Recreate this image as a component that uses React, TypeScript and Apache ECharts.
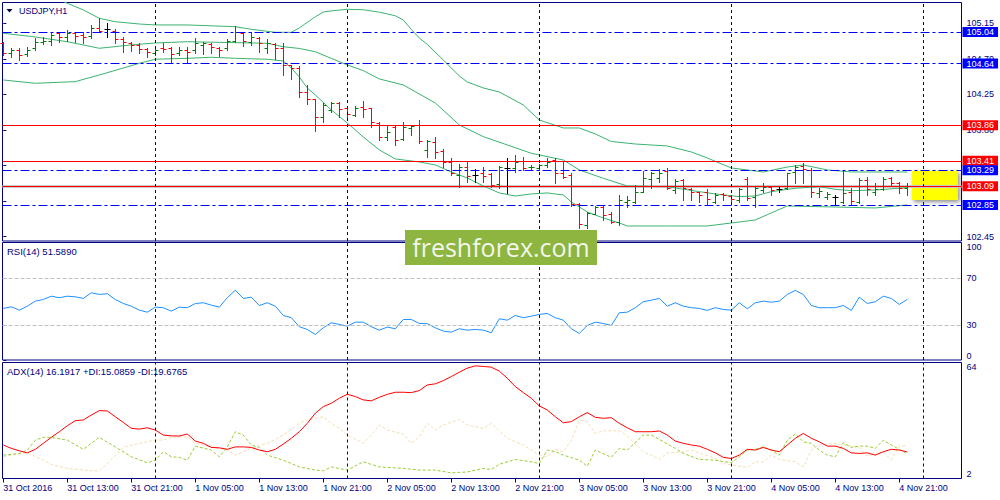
import * as echarts from 'echarts';
import { useEffect, useRef } from 'react';

const FONT = '"Liberation Sans", Arial, sans-serif';
const NAVY = '#000080';
const UP = '#008000';
const DOWN = '#ff0000';
const FLAT = '#000000';
const BAND = '#3cb371';
const BLUE = '#0000ff';
const RED = '#ff0000';

// hourly bars, 31 Oct 05:00 .. 4 Nov 22:00 (index = bar number)
const opens = [
  104.905, 104.770, 104.813, 104.758, 104.834, 104.918, 104.931, 105.023, 104.973, 105.023,
  105.002, 104.990, 105.087, 105.074, 105.057, 104.947, 104.897, 104.876, 104.821, 104.770,
  104.842, 104.834, 104.770, 104.813, 104.813, 104.876, 104.888, 104.834, 104.834, 104.931,
  105.032, 104.918, 104.960, 104.834, 104.888, 104.834, 104.623, 104.581, 104.285, 104.189,
  103.969, 104.054, 104.138, 104.075, 103.990, 104.096, 104.075, 103.893, 103.716, 103.843,
  103.682, 103.822, 103.864, 103.547, 103.653, 103.539, 103.400, 103.231, 103.337, 103.231,
  103.252, 103.244, 103.117, 103.316, 103.316, 103.413, 103.328, 103.316, 103.358, 103.421,
  103.252, 103.231, 102.864, 102.599, 102.738, 102.831, 102.738, 102.641, 102.894, 102.894,
  103.012, 103.176, 103.189, 103.286, 103.041, 103.168, 103.054, 103.012, 103.020, 102.894,
  102.991, 102.966, 102.915, 103.176, 102.949, 103.041, 103.075, 103.054, 103.063, 103.273,
  103.345, 103.295, 102.999, 102.949, 102.949, 102.894, 103.020, 102.894, 103.168, 103.020,
  103.050, 103.189, 103.134, 103.063,
];
const highs = [
  104.918, 104.834, 104.834, 104.855, 104.960, 104.981, 105.023, 105.036, 105.066, 105.044,
  105.036, 105.129, 105.213, 105.158, 105.074, 104.981, 104.918, 104.905, 104.834, 104.834,
  104.897, 104.855, 104.855, 104.846, 104.960, 104.918, 104.905, 104.855, 104.947, 105.116,
  105.044, 105.036, 104.981, 104.947, 104.905, 104.897, 104.623, 104.610, 104.370, 104.189,
  104.138, 104.159, 104.151, 104.083, 104.104, 104.172, 104.083, 103.906, 103.851, 103.864,
  103.906, 103.864, 103.927, 103.674, 103.716, 103.556, 103.442, 103.370, 103.400, 103.303,
  103.337, 103.252, 103.345, 103.442, 103.484, 103.455, 103.358, 103.370, 103.442, 103.442,
  103.400, 103.252, 102.881, 102.767, 102.843, 102.843, 102.759, 102.978, 102.966, 103.105,
  103.286, 103.265, 103.303, 103.316, 103.176, 103.176, 103.063, 103.020, 103.050, 102.999,
  103.008, 102.978, 103.063, 103.210, 103.084, 103.134, 103.092, 103.084, 103.261, 103.358,
  103.379, 103.316, 103.063, 103.020, 102.978, 103.286, 103.063, 103.189, 103.210, 103.126,
  103.210, 103.210, 103.147, 103.134,
];
const lows = [
  104.749, 104.728, 104.686, 104.737, 104.813, 104.888, 104.876, 104.918, 104.931, 104.918,
  104.905, 104.960, 105.036, 104.981, 104.905, 104.791, 104.804, 104.770, 104.728, 104.749,
  104.791, 104.652, 104.749, 104.665, 104.770, 104.762, 104.770, 104.737, 104.813, 104.918,
  104.863, 104.876, 104.791, 104.779, 104.695, 104.496, 104.446, 104.214, 104.129, 103.792,
  103.906, 104.032, 103.961, 103.961, 103.978, 103.961, 103.843, 103.674, 103.674, 103.611,
  103.674, 103.737, 103.640, 103.463, 103.442, 103.337, 103.231, 103.084, 103.147, 103.147,
  103.147, 103.084, 103.063, 103.008, 103.273, 103.295, 103.295, 103.295, 103.337, 103.134,
  103.189, 102.843, 102.556, 102.556, 102.738, 102.662, 102.620, 102.599, 102.831, 102.873,
  103.012, 103.063, 103.147, 103.050, 103.008, 102.915, 102.915, 102.885, 102.864, 102.873,
  102.915, 102.894, 102.894, 102.915, 102.831, 103.020, 102.978, 103.020, 103.050, 103.126,
  103.126, 102.949, 102.957, 102.923, 102.864, 102.881, 102.864, 102.873, 102.978, 102.978,
  103.041, 103.105, 102.999, 102.978,
];
const closes = [
  104.770, 104.813, 104.749, 104.813, 104.918, 104.931, 105.002, 104.973, 105.023, 104.990,
  104.973, 105.087, 105.057, 105.074, 104.947, 104.918, 104.876, 104.821, 104.791, 104.813,
  104.821, 104.762, 104.813, 104.791, 104.897, 104.897, 104.846, 104.813, 104.931, 105.044,
  104.931, 104.973, 104.897, 104.905, 104.834, 104.623, 104.581, 104.285, 104.189, 103.961,
  104.117, 104.146, 104.062, 104.003, 104.075, 104.062, 103.906, 103.708, 103.779, 103.674,
  103.843, 103.851, 103.661, 103.661, 103.526, 103.400, 103.252, 103.337, 103.219, 103.231,
  103.219, 103.105, 103.328, 103.316, 103.400, 103.316, 103.337, 103.358, 103.400, 103.252,
  103.210, 102.864, 102.611, 102.746, 102.831, 102.725, 102.641, 102.915, 102.915, 103.012,
  103.189, 103.252, 103.261, 103.063, 103.160, 103.063, 103.012, 102.978, 102.923, 102.978,
  102.978, 102.923, 103.050, 102.936, 103.063, 103.084, 103.041, 103.054, 103.252, 103.337,
  103.303, 103.020, 103.033, 102.991, 102.949, 103.008, 102.906, 103.168, 103.050, 103.050,
  103.176, 103.126, 103.063, 103.092,
];

// Bollinger bands(20), [bar, price]
const bbUpper = [
  [6, 105.49], [8, 105.403], [10, 105.319], [12, 105.213], [14, 105.17], [17, 105.141],
  [19, 105.129], [23, 105.129], [29, 105.107], [31, 105.074], [34, 105.036], [36, 105.036],
  [37, 105.091], [38, 105.163], [39, 105.232], [40, 105.293], [41, 105.307], [43, 105.327],
  [45, 105.321], [47, 105.291], [49, 105.245], [50, 105.192], [51, 105.072], [52, 104.964],
  [53, 104.882], [55, 104.686], [57, 104.484], [58, 104.408], [60, 104.332], [62, 104.281],
  [65, 104.117], [67, 103.927], [70, 103.826], [72, 103.826], [74, 103.75], [76, 103.655],
  [79, 103.623], [83, 103.598], [86, 103.522], [88, 103.446], [91, 103.32], [95, 103.269],
  [98, 103.332], [100, 103.358], [103, 103.295], [106, 103.269], [110, 103.269], [113, 103.269],
];
const bbMiddle = [
  [0, 105.024], [4, 104.977], [8, 104.917], [12, 104.834], [16, 104.876], [19, 104.901],
  [23, 104.917], [29, 104.905], [33, 104.897], [35, 104.853], [37, 104.832], [39, 104.79],
  [41, 104.706], [43, 104.623], [45, 104.551], [47, 104.446], [50, 104.37], [54, 104.142],
  [57, 103.864], [60, 103.716], [63, 103.611], [66, 103.506], [70, 103.421], [72, 103.295],
  [75, 103.189], [78, 103.092], [83, 103.083], [87, 103.02], [89, 102.991], [92, 102.957],
  [94, 102.966], [96, 103.02], [99, 103.063], [102, 103.083], [104, 103.05], [106, 103.033],
  [109, 103.041], [113, 103.071],
];
const bbLower = [
  [0, 104.433], [4, 104.391], [9, 104.412], [12, 104.496], [17, 104.644], [19, 104.695],
  [23, 104.707], [26, 104.72], [29, 104.707], [33, 104.695], [35, 104.673], [36, 104.585],
  [37, 104.471], [38, 104.332], [39, 104.243], [41, 104.054], [43, 103.889], [45, 103.712],
  [47, 103.548], [49, 103.434], [52, 103.396], [54, 103.358], [56, 103.269], [58, 103.193],
  [60, 103.092], [62, 103.004], [64, 102.965], [66, 102.991], [68, 103.004], [70, 102.978],
  [71, 102.89], [73, 102.763], [75, 102.687], [77, 102.624], [78, 102.586], [83, 102.586],
  [88, 102.586], [91, 102.624], [94, 102.662], [96, 102.751], [98, 102.839], [104, 102.826],
  [109, 102.814], [113, 102.852],
];

const rsi = [
  43.9, 45.3, 42.4, 45.8, 50.1, 51.5, 54.3, 53.0, 54.3, 53.8,
  52.4, 57.2, 55.8, 56.4, 51.5, 48.1, 45.8, 42.4, 40.7, 45.0,
  44.5, 41.6, 45.0, 44.5, 48.1, 48.7, 46.7, 45.0, 53.0, 59.4,
  52.4, 53.5, 46.4, 48.7, 45.8, 37.9, 36.0, 28.3, 26.0, 21.7,
  27.4, 31.7, 30.3, 28.8, 32.2, 32.2, 28.3, 25.4, 28.0, 26.6,
  34.5, 34.5, 31.1, 30.9, 27.4, 24.6, 23.7, 26.6, 25.4, 26.0,
  25.4, 23.2, 35.1, 33.9, 37.9, 36.0, 37.3, 38.8, 39.6, 36.0,
  33.9, 26.6, 22.6, 29.4, 32.2, 31.1, 29.4, 40.2, 40.7, 44.5,
  49.6, 50.9, 52.4, 45.8, 48.7, 45.8, 44.5, 43.9, 42.2, 44.5,
  43.0, 42.4, 48.7, 43.6, 48.7, 50.1, 49.2, 50.1, 55.8, 59.2,
  55.8, 46.4, 44.5, 44.5, 44.5, 46.4, 42.2, 53.5, 48.1, 49.6,
  54.3, 52.4, 47.3, 51.589,
];

const adx = [
  19.9, 18.1, 16.8, 15.7, 17.6, 20.8, 24.0, 27.0, 30.2, 32.9,
  33.3, 35.9, 38.3, 38.1, 35.0, 32.0, 28.8, 28.4, 29.1, 27.9,
  25.2, 24.8, 24.7, 25.8, 22.0, 20.8, 18.6, 18.4, 17.6, 18.9,
  18.9, 18.6, 17.2, 16.3, 17.6, 20.4, 23.5, 27.0, 31.5, 36.9,
  40.4, 42.2, 44.9, 47.0, 45.8, 44.0, 43.5, 45.4, 47.0, 48.1,
  48.1, 47.9, 49.0, 52.0, 52.6, 54.3, 56.5, 58.8, 61.0, 62.2,
  61.9, 61.5, 59.4, 55.6, 51.1, 47.9, 44.9, 40.8, 38.6, 35.0,
  31.8, 32.4, 35.0, 37.2, 34.7, 34.2, 34.5, 31.5, 29.1, 27.0,
  27.0, 27.0, 27.4, 25.2, 22.0, 20.8, 19.9, 19.3, 17.6, 15.7,
  13.3, 12.7, 14.5, 17.6, 17.2, 18.6, 17.2, 16.3, 19.9, 23.5,
  26.1, 23.5, 21.6, 19.3, 19.3, 18.1, 15.7, 15.4, 15.7, 14.5,
  16.3, 17.6, 17.2, 16.19,
];
const plusDI = [
  [0, 14.5], [1, 14.9], [2, 15.4], [3, 17.2], [4, 22.5], [5, 24.0], [6, 24.0], [8, 22.5],
  [10, 17.6], [12, 24.0], [14, 18.9], [16, 13.6], [18, 10.4], [19, 11.8], [20, 16.3], [21, 13.6],
  [22, 13.3], [23, 11.8], [24, 19.3], [26, 17.2], [27, 13.6], [28, 18.9], [29, 27.0], [30, 25.2],
  [31, 19.9], [32, 18.6], [33, 14.5], [35, 11.8], [37, 8.2], [39, 6.5], [40, 6.1], [41, 8.2],
  [43, 6.5], [45, 10.9], [47, 8.2], [50, 7.4], [52, 6.5], [54, 6.5], [56, 5.0], [58, 5.5],
  [60, 7.4], [61, 6.8], [62, 9.6], [64, 12.2], [66, 10.9], [67, 10.0], [68, 17.2], [69, 16.3],
  [70, 14.5], [72, 11.8], [73, 8.6], [74, 17.2], [76, 13.3], [77, 18.1], [78, 17.2], [80, 25.2],
  [81, 25.2], [82, 22.9], [84, 18.1], [85, 15.4], [87, 12.2], [89, 11.8], [91, 10.4], [92, 13.6],
  [93, 17.2], [94, 17.6], [95, 18.9], [96, 17.2], [97, 14.5], [98, 22.5], [99, 25.8], [100, 21.6],
  [101, 20.8], [102, 17.2], [103, 14.5], [104, 13.6], [105, 21.1], [106, 18.6], [107, 19.3],
  [108, 19.3], [109, 18.1], [110, 22.5], [111, 19.9], [112, 17.6], [113, 15.09],
];
const minusDI = [
  [0, 13.6], [1, 14.5], [3, 15.7], [5, 11.8], [6, 9.5], [8, 7.4], [10, 6.5], [12, 5.9],
  [13, 10.0], [15, 18.6], [17, 20.8], [19, 22.5], [20, 22.5], [21, 24.0], [23, 24.3], [24, 20.8],
  [26, 18.9], [28, 17.2], [29, 14.5], [30, 16.3], [32, 19.9], [33, 20.8], [35, 25.2], [37, 31.5],
  [38, 33.3], [40, 35.0], [41, 31.5], [42, 28.8], [43, 25.2], [45, 20.8], [46, 25.2], [47, 30.6],
  [48, 27.9], [50, 25.8], [51, 20.8], [52, 24.3], [53, 31.5], [54, 27.9], [55, 30.6], [57, 33.6],
  [58, 30.6], [60, 28.8], [61, 31.5], [62, 27.5], [63, 23.5], [65, 19.9], [66, 17.2], [67, 14.5],
  [68, 13.6], [69, 17.6], [70, 16.3], [71, 22.5], [72, 33.3], [73, 32.4], [74, 26.1], [75, 27.5],
  [77, 27.5], [78, 24.7], [80, 16.3], [81, 14.5], [82, 12.2], [83, 15.7], [85, 16.3], [86, 17.2],
  [87, 15.7], [89, 12.7], [90, 10.0], [93, 7.9], [94, 10.9], [95, 10.9], [96, 14.5], [97, 12.2],
  [99, 10.9], [100, 8.2], [101, 17.2], [102, 19.9], [104, 20.8], [105, 19.9], [107, 18.6],
  [108, 14.0], [110, 16.3], [111, 11.8], [112, 19.3], [113, 19.68],
];

const timeLabelIdx = [0, 8, 16, 24, 32, 40, 48, 56, 64, 72, 80, 88, 96, 104, 112];
const timeLabels = [
  '31 Oct 2016', '31 Oct 13:00', '31 Oct 21:00', '1 Nov 05:00', '1 Nov 13:00',
  '1 Nov 21:00', '2 Nov 05:00', '2 Nov 13:00', '2 Nov 21:00', '3 Nov 05:00',
  '3 Nov 13:00', '3 Nov 21:00', '4 Nov 05:00', '4 Nov 13:00', '4 Nov 21:00',
];
const dayStarts = [19, 43, 67, 91, 115];
const priceTicks = [102.45, 102.9, 103.35, 103.8, 104.25, 104.7, 105.15];
// 102.90 and 103.35 sit fully under the level boxes, so only their ticks are drawn
const priceLabels = [102.45, 103.8, 104.25, 104.7, 105.15];
const rsiTicks = [0, 30, 70, 100];
const rsiLevels = [70, 30];
const adxTicks = [2, 64];
const blueLevels = [105.04, 104.64, 103.29, 102.85];
const redLevels = [103.86, 103.41, 103.09];
const lastPrice = 103.09;
const boxFrom = [113.55, 103.286];
const boxTo = [119.3, 102.915];

const X_MIN = -0.1;
const X_MAX = 119.775;
const DASH_DOT = [9, 3, 3, 3];

const renderBar = (_params: any, api: any) => {
  const i = api.value(0);
  const o = api.value(1);
  const h = api.value(2);
  const l = api.value(3);
  const c = api.value(4);
  const pH = api.coord([i, h]);
  const pL = api.coord([i, l]);
  const pO = api.coord([i, o]);
  const pC = api.coord([i, c]);
  const x = Math.round(pH[0]) + 0.5;
  const yO = Math.round(pO[1]) + 0.5;
  const yC = Math.round(pC[1]) + 0.5;
  const color = c > o ? UP : c < o ? DOWN : FLAT;
  const style = { stroke: color, lineWidth: 1 };
  return {
    type: 'group',
    children: [
      { type: 'line', shape: { x1: x, y1: Math.round(pH[1]), x2: x, y2: Math.round(pL[1]) + 1 }, style },
      { type: 'line', shape: { x1: x - 3, y1: yO, x2: x, y2: yO }, style },
      { type: 'line', shape: { x1: x, y1: yC, x2: x + 3, y2: yC }, style },
    ],
  };
};

// a level drawn as a flat line across the whole price axis
const renderLevel = (color: string, width: number) => (params: any, api: any) => {
  const y = Math.round(api.coord([0, api.value(0)])[1]) + (width % 2 ? 0.5 : 0);
  const cs = params.coordSys;
  return {
    type: 'line',
    shape: { x1: cs.x, y1: y, x2: cs.x + cs.width, y2: y },
    style: { stroke: color, lineWidth: width },
  };
};

const levelLabel = (color: string) => ({
  show: true,
  position: 'end',
  distance: 1,
  formatter: (p: any) => Number(p.value).toFixed(2),
  color: '#ffffff',
  backgroundColor: color,
  padding: [1, 4, 0, 4],
  lineHeight: 9,
  fontSize: 9,
  fontFamily: FONT,
});

const separators = dayStarts.map((d) => ({ xAxis: d }));
const sepStyle = { color: NAVY, type: [3, 3], width: 1 };

const hiddenX = (gridIndex: number) => ({
  type: 'value',
  gridIndex,
  min: X_MIN,
  max: X_MAX,
  axisLine: { show: false },
  axisTick: { show: false },
  axisLabel: { show: false },
  splitLine: { show: false },
});

const rightY = (
  gridIndex: number,
  min: number,
  max: number,
  ticks: number[],
  labels: number[],
  fmt: (v: number) => string,
  edge: boolean,
) => ({
  type: 'value',
  gridIndex,
  position: 'right',
  min,
  max,
  axisLine: { show: false },
  splitLine: { show: false },
  axisTick: { show: true, length: 3, customValues: ticks, lineStyle: { color: NAVY } },
  axisLabel: {
    customValues: labels,
    formatter: fmt,
    color: NAVY,
    fontSize: 9,
    fontFamily: FONT,
    margin: 5,
    ...(edge ? { verticalAlignMinLabel: 'bottom', verticalAlignMaxLabel: 'top' } : {}),
  },
});

const textStyle = (text: string) => ({
  text,
  fill: NAVY,
  fontSize: 9.5,
  fontFamily: FONT,
  verticalAlign: 'middle',
});

export default function App() {
  const chartRef = useRef<HTMLDivElement>(null);

  useEffect(() => {
    if (!chartRef.current) return;
    const chart = echarts.init(chartRef.current, undefined, { renderer: 'svg' });

    const gridBase = { left: 2.5, width: 959, show: true, borderColor: NAVY, borderWidth: 1, backgroundColor: '#ffffff' };

    chart.setOption({
      animation: false,
      backgroundColor: '#ffffff',
      grid: [
        { ...gridBase, top: 2.5, height: 238.5 },
        { ...gridBase, top: 242.5, height: 117.5 },
        { ...gridBase, top: 362.5, height: 116 },
      ],
      xAxis: [
        hiddenX(0),
        hiddenX(1),
        {
          ...hiddenX(2),
          axisTick: { show: true, length: 4, customValues: timeLabelIdx, lineStyle: { color: NAVY } },
          axisLabel: {
            show: true,
            customValues: timeLabelIdx,
            formatter: (v: number) => timeLabels[timeLabelIdx.indexOf(Math.round(v))] ?? '',
            align: 'left',
            margin: 5,
            color: NAVY,
            fontSize: 9,
            fontFamily: FONT,
          },
        },
      ],
      yAxis: [
        rightY(0, 102.396, 105.413, priceTicks, priceLabels, (v) => v.toFixed(2), false),
        rightY(1, 0, 100, rsiTicks, rsiTicks, (v) => String(v), true),
        rightY(2, 2, 64, adxTicks, adxTicks, (v) => String(v), true),
      ],
      series: [
        {
          // grey bid line under the last price
          type: 'custom', xAxisIndex: 0, yAxisIndex: 0, silent: true, z: 1,
          renderItem: renderLevel('#c8c8c8', 3),
          encode: { y: 0 },
          data: [[lastPrice]],
        },
        {
          type: 'custom', xAxisIndex: 0, yAxisIndex: 0, silent: true, z: 4,
          renderItem: renderLevel(RED, 1),
          encode: { y: 0 },
          data: redLevels.map((v) => [v]),
        },
        {
          type: 'custom',
          name: 'USDJPY',
          xAxisIndex: 0,
          yAxisIndex: 0,
          renderItem: renderBar,
          encode: { x: 0, y: [1, 2, 3, 4] },
          data: opens.map((o, i) => [i, o, highs[i], lows[i], closes[i]]),
          z: 3,
        },
        {
          type: 'line', xAxisIndex: 0, yAxisIndex: 0, data: bbUpper, symbol: 'none',
          lineStyle: { color: BAND, width: 1 }, z: 2,
        },
        {
          type: 'line', xAxisIndex: 0, yAxisIndex: 0, data: bbMiddle, symbol: 'none',
          lineStyle: { color: BAND, width: 1 }, z: 2, clip: false,
          markArea: {
            silent: true,
            itemStyle: {
              color: '#ffff00',
              shadowBlur: 4,
              shadowOffsetX: 2,
              shadowOffsetY: 2,
              shadowColor: 'rgba(0,0,0,0.45)',
            },
            label: { show: false },
            data: [[{ coord: boxFrom }, { coord: boxTo }]],
          },
          markLine: {
            // price boxes of the red levels (the lines themselves come from the custom series)
            silent: true,
            symbol: ['none', 'none'],
            lineStyle: { color: 'rgba(0,0,0,0)', width: 0 },
            label: levelLabel(RED),
            data: redLevels.map((v) => ({ yAxis: v })),
          },
        },
        {
          type: 'line', xAxisIndex: 0, yAxisIndex: 0, data: bbLower, symbol: 'none',
          lineStyle: { color: BAND, width: 1 }, z: 2, clip: false,
          markLine: {
            silent: true,
            symbol: ['none', 'none'],
            lineStyle: { color: BLUE, type: DASH_DOT, width: 1 },
            label: levelLabel(BLUE),
            data: [
              ...blueLevels.map((v) => ({ yAxis: v })),
              ...separators.map((s) => ({ ...s, lineStyle: sepStyle, label: { show: false } })),
            ],
          },
        },
        {
          type: 'line', xAxisIndex: 1, yAxisIndex: 1, data: rsi.map((v, i) => [i, v]), symbol: 'none',
          lineStyle: { color: '#1e90ff', width: 1 },
          markLine: {
            silent: true,
            symbol: ['none', 'none'],
            label: { show: false },
            lineStyle: sepStyle,
            data: [
              ...rsiLevels.map((v) => ({ yAxis: v, lineStyle: { color: '#c0c0c0', type: [4, 2], width: 1 } })),
              ...separators,
            ],
          },
        },
        {
          type: 'line', xAxisIndex: 2, yAxisIndex: 2, data: minusDI, symbol: 'none',
          lineStyle: { color: '#f5deb3', width: 1, type: [3, 2] },
        },
        {
          type: 'line', xAxisIndex: 2, yAxisIndex: 2, data: plusDI, symbol: 'none',
          lineStyle: { color: '#9acd32', width: 1, type: [3, 2] },
        },
        {
          type: 'line', xAxisIndex: 2, yAxisIndex: 2, data: adx.map((v, i) => [i, v]), symbol: 'none',
          lineStyle: { color: '#ff0000', width: 1 },
          markLine: {
            silent: true,
            symbol: ['none', 'none'],
            label: { show: false },
            lineStyle: sepStyle,
            data: separators,
          },
        },
      ],
      graphic: [
        { type: 'polygon', shape: { points: [[6.5, 9], [12.5, 9], [9.5, 12.5]] }, style: { fill: '#000050' }, z: 50 },
        { type: 'text', x: 19, y: 10.7, style: { ...textStyle('USDJPY,H1'), fontSize: 9 }, z: 50 },
        { type: 'text', x: 7, y: 251.7, style: textStyle('RSI(14) 51.5890'), z: 50 },
        { type: 'text', x: 7, y: 371.7, style: textStyle('ADX(14) 16.1917 +DI:15.0859 -DI:19.6765'), z: 50 },
        {
          type: 'group',
          z: 100,
          children: [
            { type: 'rect', shape: { x: 405, y: 230, width: 192, height: 35 }, style: { fill: '#8db53f' }, z: 100 },
            {
              type: 'text',
              x: 501,
              y: 247,
              z: 101,
              style: {
                text: 'freshforex.com',
                fill: '#f3f6ec',
                fontSize: 25,
                fontFamily: '"Open Sans", "Noto Sans", sans-serif',
                align: 'center',
                verticalAlign: 'middle',
              },
            },
          ],
        },
      ],
    });

    return () => {
      chart.dispose();
    };
  }, []);

  return (
    <div
      ref={chartRef}
      style={{ position: 'fixed', left: 0, top: 0, width: 1000, height: 500, background: '#ffffff' }}
    />
  );
}
